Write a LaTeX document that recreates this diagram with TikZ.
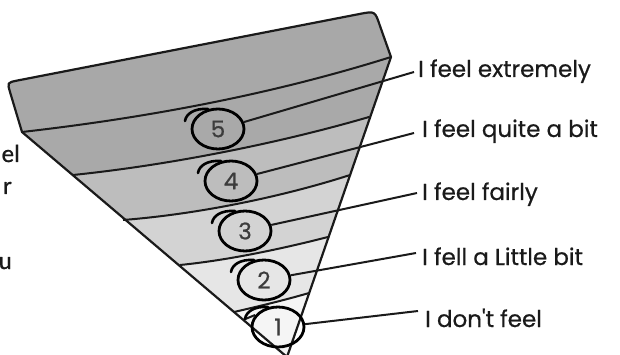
\documentclass[tikz,border=0pt]{standalone}
\usepackage{fontspec}
\setmainfont{Poppins}
\newfontfamily\labfont[FakeBold=0.6]{Poppins}
\newfontfamily\leftfont[FakeBold=0.8]{Carlito}
\usetikzlibrary{shapes.geometric,calc}
\definecolor{capgray}{HTML}{A8A8A8}
\definecolor{bandA}{HTML}{A9A9A9}
\definecolor{bandB}{HTML}{BDBDBD}
\definecolor{bandC}{HTML}{D3D3D3}
\definecolor{bandD}{HTML}{E6E6E6}
\definecolor{bandE}{HTML}{F5F5F5}
\definecolor{ink}{HTML}{1A1A1A}
\begin{document}
\begin{tikzpicture}[x=1pt,y=-1pt,
  edge/.style={draw=ink, line width=2.2pt, line join=round},
  bandline/.style={draw=ink, line width=2pt},
  ring/.style={ellipse, draw=black, line width=2.8pt, minimum width=52pt, minimum height=40pt, inner sep=0pt, font=\labfont\fontsize{23}{23}\selectfont, text=ink!85},
  hookline/.style={draw=black, line width=2.6pt, line cap=round, line join=round},
  leader/.style={draw=ink, line width=2pt},
  lab/.style={anchor=base west, inner sep=0pt, font=\labfont\fontsize{23}{23}\selectfont, text=ink},
  frag/.style={anchor=base east, inner sep=0pt, font=\leftfont\fontsize{25}{25}\selectfont, text=ink}
]
\useasboundingbox (0,0) rectangle (620,355);

% band fills clipped to the funnel
\begin{scope}
  \clip (287,357) -- (22,132) -- (10,92) .. controls (7.3,82.6) .. (17,80.6)
        -- (360,13.9) .. controls (375,11) .. (380,26) -- (391,57) -- cycle;
  \fill[bandE] (0,0) rectangle (620,360);
  \fill[bandD] (234,312) .. controls (260,306) and (285,300) .. (309,293)
        -- (440,293) -- (440,-10) -- (-10,-10) |- (234,312) -- cycle;
  \fill[bandC] (180,265) .. controls (230,260) and (285,248) .. (328,237)
        -- (440,237) -- (440,-10) -- (-10,-10) |- (180,265) -- cycle;
  \fill[bandB] (123,220) .. controls (200,214) and (285,196) .. (350,175)
        -- (440,175) -- (440,-10) -- (-10,-10) |- (123,220) -- cycle;
  \fill[bandA] (73,175) .. controls (170,165) and (280,143) .. (369,117)
        -- (440,117) -- (440,-10) -- (-10,-10) |- (73,175) -- cycle;
  \fill[capgray] (22,132) .. controls (145,118) and (270,95) .. (391,57)
        -- (440,57) -- (440,-10) -- (-10,-10) |- (22,132) -- cycle;
\end{scope}

% band lines
\draw[bandline] (22,132) .. controls (145,118) and (270,95) .. (391,57);
\draw[bandline] (73,175) .. controls (170,165) and (280,143) .. (369,117);
\draw[bandline] (123,220) .. controls (200,214) and (285,196) .. (350,175);
\draw[bandline] (180,265) .. controls (230,260) and (285,248) .. (328,237);
\draw[bandline] (234,312) .. controls (260,306) and (285,300) .. (309,293);
\draw[bandline] (243,320) -- (255,315);

% funnel outline
\draw[edge] (287,357) -- (22,132) -- (10,92) .. controls (7.3,82.6) .. (17,80.6)
      -- (360,13.9) .. controls (375,11) .. (380,26) -- (391,57) -- cycle;

% numbered rings
\node[ring] (c5) at (218,129) {5};
\node[ring] (c4) at (231,181) {4};
\node[ring] (c3) at (245,231) {3};
\node[ring] (c2) at (264,280) {2};
\node[ring] (c1) at (278,327) {1};

\foreach \c in {c5,c4,c3,c2,c1}{
  \draw[hookline] ([shift={(-33,-8)}]\c.center) .. controls ([shift={(-32,-15)}]\c.center)
     and ([shift={(-24,-21)}]\c.center) .. ([shift={(-10,-20)}]\c.center);
}

% labels
\node[lab] (t5) at (418,77) {I feel extremely};
\node[lab] (t4) at (422,137) {I feel quite a bit};
\node[lab] (t3) at (422,200) {I feel fairly};
\node[lab] (t2) at (422,265) {I fell a Little bit};
\node[lab] (t1) at (425,327) {I don't feel};

\draw[leader] (c5.15) -- ([xshift=-4pt,yshift=5pt]t5.base west);
\draw[leader] (c4.15) -- ([xshift=-8pt,yshift=4pt]t4.base west);
\draw[leader] (c3.13) -- ([xshift=-5pt,yshift=7pt]t3.base west);
\draw[leader] (c2.10) -- ([xshift=-6pt,yshift=12pt]t2.base west);
\draw[leader] (c1.6) -- ([xshift=-7pt,yshift=16pt]t1.base west);

% cut-off text on the left
\node[frag] (f1) at (20,162) {el};
\node[frag] (f2) at (12,194) {r};
\node[frag] (f3) at (12,269) {u};
\end{tikzpicture}
\end{document}
